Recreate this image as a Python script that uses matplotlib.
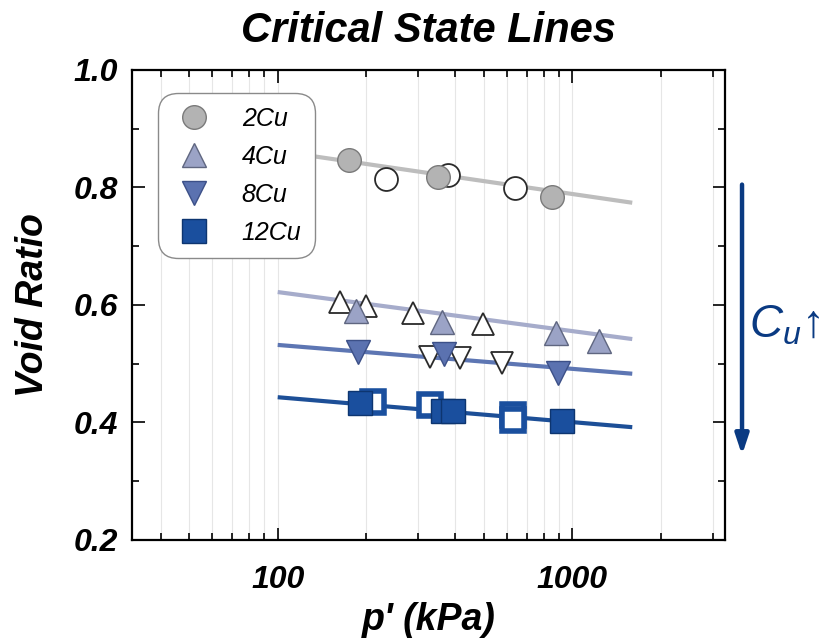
import numpy as np
import matplotlib.pyplot as plt
from matplotlib.lines import Line2D
from matplotlib.ticker import LogLocator, FixedLocator, FuncFormatter, MultipleLocator

plt.rcParams['font.family'] = ['Liberation Sans', 'DejaVu Sans']
plt.rcParams['mathtext.fontset'] = 'custom'
plt.rcParams['mathtext.it'] = 'Liberation Sans:italic'
plt.rcParams['mathtext.rm'] = 'Liberation Sans'

# fitted critical state lines (end points)
fit_p = [100, 1600]
fit_2cu = [0.862, 0.774]
fit_4cu = [0.622, 0.542]
fit_8cu = [0.532, 0.483]
fit_12cu = [0.443, 0.392]

# filled symbols
p_2cu = [175, 351, 855]
e_2cu = [0.847, 0.818, 0.784]
p_4cu = [185, 362, 883, 1236]
e_4cu = [0.590, 0.571, 0.552, 0.539]
p_8cu = [187, 366, 897]
e_8cu = [0.520, 0.517, 0.484]
p_12cu = [191, 365, 395, 925]
e_12cu = [0.433, 0.420, 0.420, 0.403]

# open symbols
p_2cu_o = [234, 380, 641]
e_2cu_o = [0.814, 0.822, 0.799]
p_4cu_o = [163, 199, 289, 499]
e_4cu_o = [0.605, 0.598, 0.586, 0.568]
p_8cu_o = [328, 417, 579]
e_8cu_o = [0.511, 0.509, 0.501]
p_12cu_o = [210, 330, 632, 632]
e_12cu_o = [0.435, 0.430, 0.413, 0.404]

labels = ['2Cu', '4Cu', '8Cu', '12Cu']
face = ['#b3b3b3', '#9ba3c6', '#5b72b0', '#1a4f9e']
edge = ['#7a7a7a', '#5f6680', '#3c5088', '#0d3570']
linecol = ['#bdbdbd', '#a6accb', '#5d76b3', '#1d4f97']
marks = ['o', '^', 'v', 's']

fig = plt.figure(figsize=(8.28, 6.43), dpi=100)
ax = fig.add_axes([0.1594, 0.1602, 0.716, 0.731])

fits = [fit_2cu, fit_4cu, fit_8cu, fit_12cu]
filled = [(p_2cu, e_2cu), (p_4cu, e_4cu), (p_8cu, e_8cu), (p_12cu, e_12cu)]
opened = [(p_2cu_o, e_2cu_o), (p_4cu_o, e_4cu_o), (p_8cu_o, e_8cu_o), (p_12cu_o, e_12cu_o)]

for i in range(4):
    ax.plot(fit_p, fits[i], color=linecol[i], lw=3, zorder=2, solid_capstyle='butt')

for i in range(4):
    p, e = opened[i]
    if marks[i] == 's':
        ax.plot(p, e, ls='none', marker='s', ms=16.5, mfc='white', mec=face[i], mew=4, zorder=3)
    else:
        ax.plot(p, e, ls='none', marker=marks[i], ms=16.5, mfc='white', mec='#2a2a2a', mew=1.3, zorder=3)
    p, e = filled[i]
    ax.plot(p, e, ls='none', marker=marks[i], ms=17, mfc=face[i], mec=edge[i], mew=1.0, zorder=4)

ax.set_xscale('log')
ax.set_xlim(32, 3300)
ax.set_ylim(0.2, 1.0)

ax.xaxis.set_major_locator(FixedLocator([100, 1000]))
ax.xaxis.set_major_formatter(FuncFormatter(lambda v, pos: '%d' % v))
ax.xaxis.set_minor_locator(LogLocator(base=10, subs=np.arange(2, 10)))
ax.xaxis.set_minor_formatter(FuncFormatter(lambda v, pos: ''))
ax.yaxis.set_major_locator(MultipleLocator(0.2))
ax.yaxis.set_minor_locator(MultipleLocator(0.1))
ax.yaxis.set_major_formatter(FuncFormatter(lambda v, pos: '%.1f' % v))

ax.grid(True, which='both', axis='x', color='#e6e6e6', lw=0.8, zorder=0)
ax.set_axisbelow(True)

for s in ax.spines.values():
    s.set_linewidth(1.6)
ax.tick_params(which='both', direction='in', top=True, right=True, width=1.2)
ax.tick_params(which='major', length=9)
ax.tick_params(which='minor', length=5)
ax.tick_params(axis='x', which='major', pad=18)
ax.tick_params(axis='y', which='major', pad=10)
for t in ax.get_xticklabels() + ax.get_yticklabels():
    t.set_fontsize(23)
    t.set_fontweight('bold')
    t.set_fontstyle('italic')

ax.set_xlabel("p' (kPa)", fontsize=27, fontweight='bold', fontstyle='italic', labelpad=5)
ax.set_ylabel('Void Ratio', fontsize=27, fontweight='bold', fontstyle='italic', labelpad=16)
fig.text(0.517, 0.952, 'Critical State Lines', ha='center', va='center',
         fontsize=30, fontweight='bold', fontstyle='italic')

handles = [Line2D([], [], ls='none', marker=marks[i], ms=17, mfc=face[i], mec=edge[i], mew=1.0)
           for i in range(4)]
leg = ax.legend(handles, labels, loc='upper left', bbox_to_anchor=(0.044, 0.951),
                prop={'size': 18, 'style': 'italic'}, frameon=True, fancybox=True,
                borderpad=0.55, labelspacing=0.56, handlelength=1.8, handletextpad=1.0,
                borderaxespad=0)
frame = leg.get_frame()
frame.set_edgecolor('#8a8a8a')
frame.set_linewidth(1.0)
frame.set_facecolor('white')
frame.set_alpha(1)
frame.set_boxstyle('round,pad=0,rounding_size=0.8')
leg.set_zorder(10)

# C_u increasing arrow
ax.annotate('', xy=(1.029, 0.175), xytext=(1.029, 0.762), xycoords='axes fraction',
            arrowprops=dict(arrowstyle='-|>,head_width=0.4,head_length=1.2',
                            color='#0a3a82', lw=3.2), annotation_clip=False)
ax.text(1.041, 0.457, r'$C_u$' + '\u2191', transform=ax.transAxes, ha='left', va='center',
        fontsize=33, color='#0a3a82')

fig.savefig('out.png', dpi=100)
